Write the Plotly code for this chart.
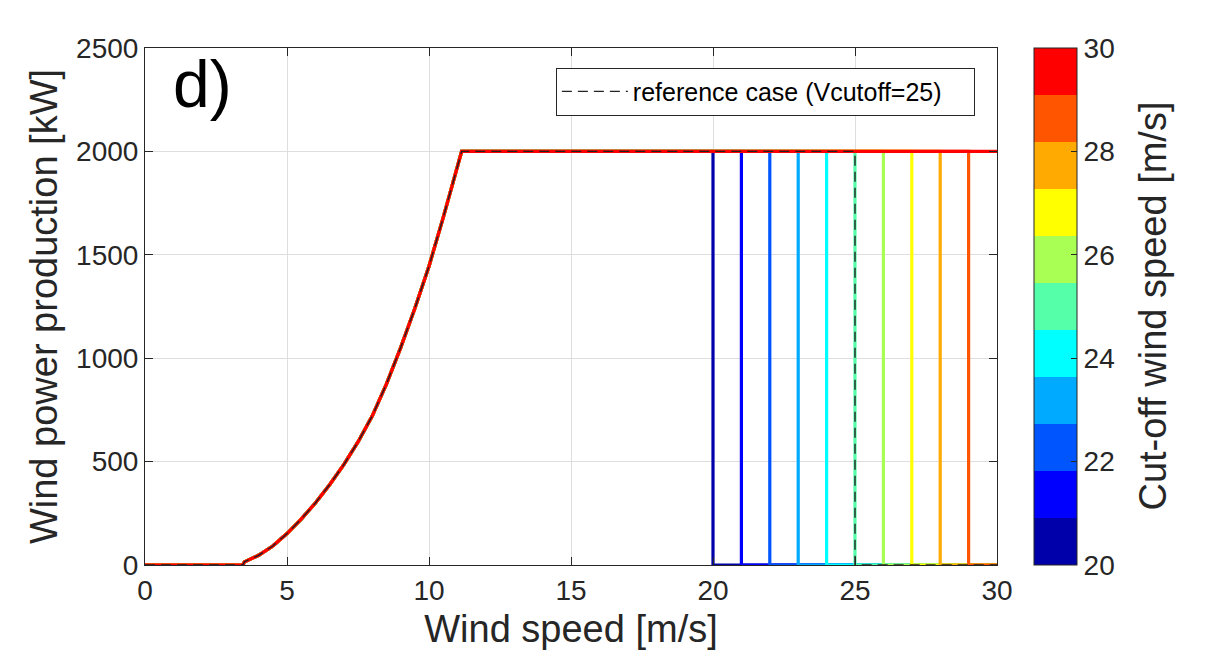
import plotly.graph_objects as go

# power curve
wind_speed = [0, 3.45, 3.5, 4, 4.5, 5, 5.5, 6, 6.5, 7, 7.5, 8, 8.5, 9, 9.5, 10, 10.5, 11, 11.15]
power_kw = [0, 0, 15, 47, 92, 152, 222, 300, 388, 485, 595, 720, 875, 1050, 1240, 1445, 1680, 1925, 2000]
rated_power = 2000
cutoff_speeds = [20, 21, 22, 23, 24, 25, 26, 27, 28, 29, 30]
reference_cutoff = 25
x_max = 30

# jet(11)
jet_colors = ["#0000AA", "#0000FF", "#0055FF", "#00AAFF", "#00FFFF", "#55FFAA",
              "#AAFF55", "#FFFF00", "#FFAA00", "#FF5500", "#FF0000"]

font = "Liberation Sans, Arial, sans-serif"
txt = "#262626"


def curve(cut):
    if cut >= x_max:
        return wind_speed + [x_max], power_kw + [rated_power]
    return wind_speed + [cut, cut, x_max], power_kw + [rated_power, 0, 0]


fig = go.Figure()

for cut, col in zip(cutoff_speeds, jet_colors):
    xs, ys = curve(cut)
    fig.add_trace(go.Scatter(x=xs, y=ys, mode="lines", line=dict(color=col, width=3.2),
                             showlegend=False, hoverinfo="skip"))

xs, ys = curve(reference_cutoff)
fig.add_trace(go.Scatter(x=xs, y=ys, mode="lines", name="reference case (Vcutoff=25)",
                         line=dict(color="#222222", width=1.4, dash="10px,6px")))

# colour bar
n = len(jet_colors)
cscale = []
for i, c in enumerate(jet_colors):
    cscale.append([i / n, c])
    cscale.append([(i + 1) / n, c])

fig.add_trace(go.Scatter(
    x=[None], y=[None], mode="markers", showlegend=False, hoverinfo="skip",
    marker=dict(color=[cutoff_speeds[0]], colorscale=cscale, cmin=cutoff_speeds[0],
                cmax=cutoff_speeds[-1], showscale=True,
                colorbar=dict(x=1.0314, xanchor="left", y=0.5, yanchor="middle", len=1,
                              ypad=0, thickness=43, outlinewidth=1, outlinecolor=txt,
                              tickvals=[20, 22, 24, 26, 28, 30], ticks="inside",
                              ticklen=6, tickcolor=txt,
                              tickfont=dict(family=font, size=28, color=txt)))))

# colour bar title as a rotated annotation so it can sit further right
fig.add_annotation(text="Cut-off wind speed [m/s]", xref="paper", yref="paper",
                   x=1.182, y=0.5, xanchor="center", yanchor="middle", textangle=-90,
                   showarrow=False, font=dict(family=font, size=38, color=txt))

fig.add_annotation(text="d)", xref="paper", yref="paper", x=0.03, y=1.005,
                   xanchor="left", yanchor="top", showarrow=False,
                   font=dict(family=font, size=66, color="black"))

axis = dict(showline=True, linecolor=txt, linewidth=1, mirror="ticks", ticks="inside",
            ticklen=8, tickcolor=txt, showgrid=True, gridcolor="#dedede", gridwidth=1,
            zeroline=False, tickfont=dict(family=font, size=28, color=txt))

fig.update_xaxes(range=[0, x_max], dtick=5, **axis,
                 title=dict(text="Wind speed [m/s]", standoff=10,
                            font=dict(family=font, size=38, color=txt)))
fig.update_yaxes(range=[0, 2500], dtick=500, **axis,
                 title=dict(text="Wind power production [kW]", standoff=6,
                            font=dict(family=font, size=38, color=txt)))

# page body adds ~8px, so the figure is a bit smaller and shifted
fig.update_layout(
    width=1205, height=646,
    margin=dict(l=137, r=216, t=40, b=89),
    paper_bgcolor="white", plot_bgcolor="white",
    legend=dict(x=0.974, xanchor="right", y=0.962, yanchor="top", orientation="h",
                entrywidth=336, bgcolor="white", bordercolor=txt, borderwidth=1,
                font=dict(family=font, size=25, color="black"), itemwidth=66),
)

fig.write_html("out.html")
